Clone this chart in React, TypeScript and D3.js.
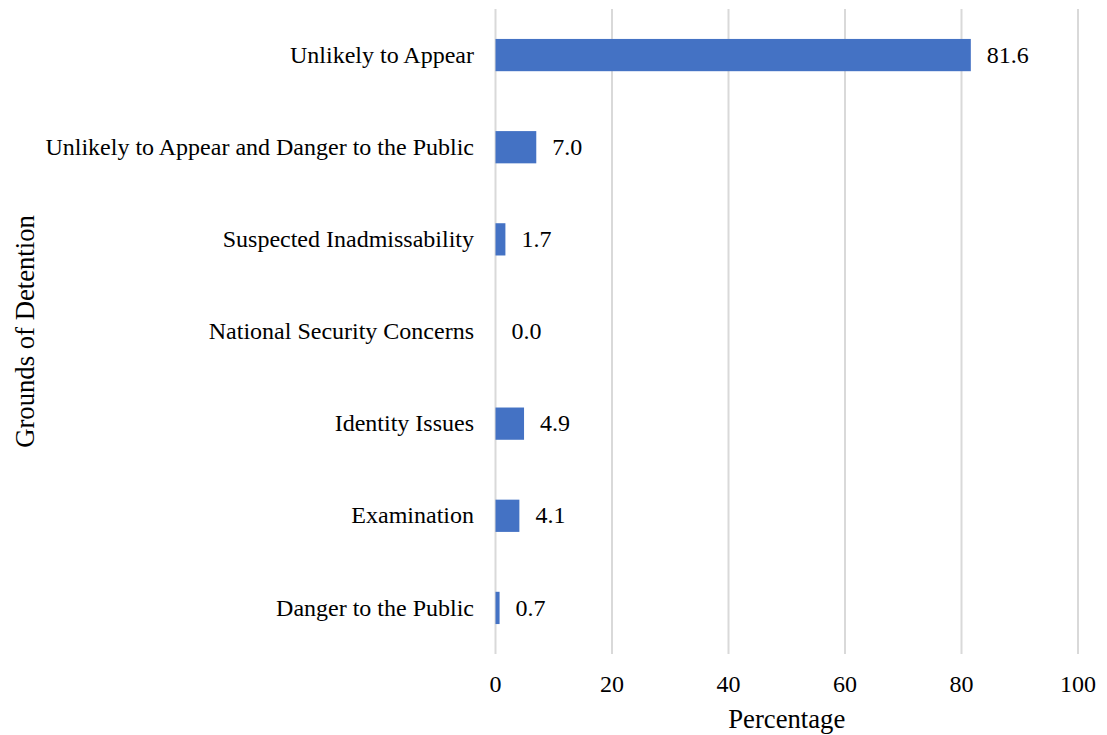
import React from "react";
import * as d3 from "d3";

const categories = [
  "Unlikely to Appear",
  "Unlikely to Appear and Danger to the Public",
  "Suspected Inadmissability",
  "National Security Concerns",
  "Identity Issues",
  "Examination",
  "Danger to the Public",
];
const values = [81.6, 7.0, 1.7, 0.0, 4.9, 4.1, 0.7];
const xTicks = [0, 20, 40, 60, 80, 100];

const W = 1107;
const H = 735;
const left = 495.5;
const right = 1078;
const top = 9;
const bottom = 654;
const font = "'Liberation Serif', 'Times New Roman', serif";

export default function App() {
  const x = d3.scaleLinear().domain([0, 100]).range([left, right]);
  const y = d3.scaleBand().domain(categories).range([top, bottom]).paddingInner(0.65).paddingOuter(0.325);
  return (
    <svg width={W} height={H} style={{ position: "absolute", left: 0, top: 0, background: "#fff" }}>
      {xTicks.map((t) => (
        <g key={t}>
          <line x1={x(t)} x2={x(t)} y1={top} y2={bottom} stroke="#d9d9d9" strokeWidth={2} />
          <text x={x(t)} y={692} textAnchor="middle" fontFamily={font} fontSize={24} fill="#000">{t}</text>
        </g>
      ))}
      {categories.map((c, i) => {
        const yy = y(c)!;
        const cy = yy + y.bandwidth() / 2;
        return (
          <g key={c}>
            {values[i] > 0 && (
              <rect x={x(0)} y={yy} width={x(values[i]) - x(0)} height={y.bandwidth()} fill="#4472C4" />
            )}
            <text x={474} y={cy} dy="0.32em" textAnchor="end" fontFamily={font} fontSize={24} fill="#000">{c}</text>
            <text x={x(values[i]) + 16} y={cy} dy="0.32em" textAnchor="start" fontFamily={font} fontSize={24} fill="#000">{values[i].toFixed(1)}</text>
          </g>
        );
      })}
      <text x={(left + right) / 2} y={728} textAnchor="middle" fontFamily={font} fontSize={26.7} fill="#000">Percentage</text>
      <text transform={`translate(34, ${(top + bottom) / 2}) rotate(-90)`} textAnchor="middle" fontFamily={font} fontSize={26.7} fill="#000">Grounds of Detention</text>
    </svg>
  );
}
